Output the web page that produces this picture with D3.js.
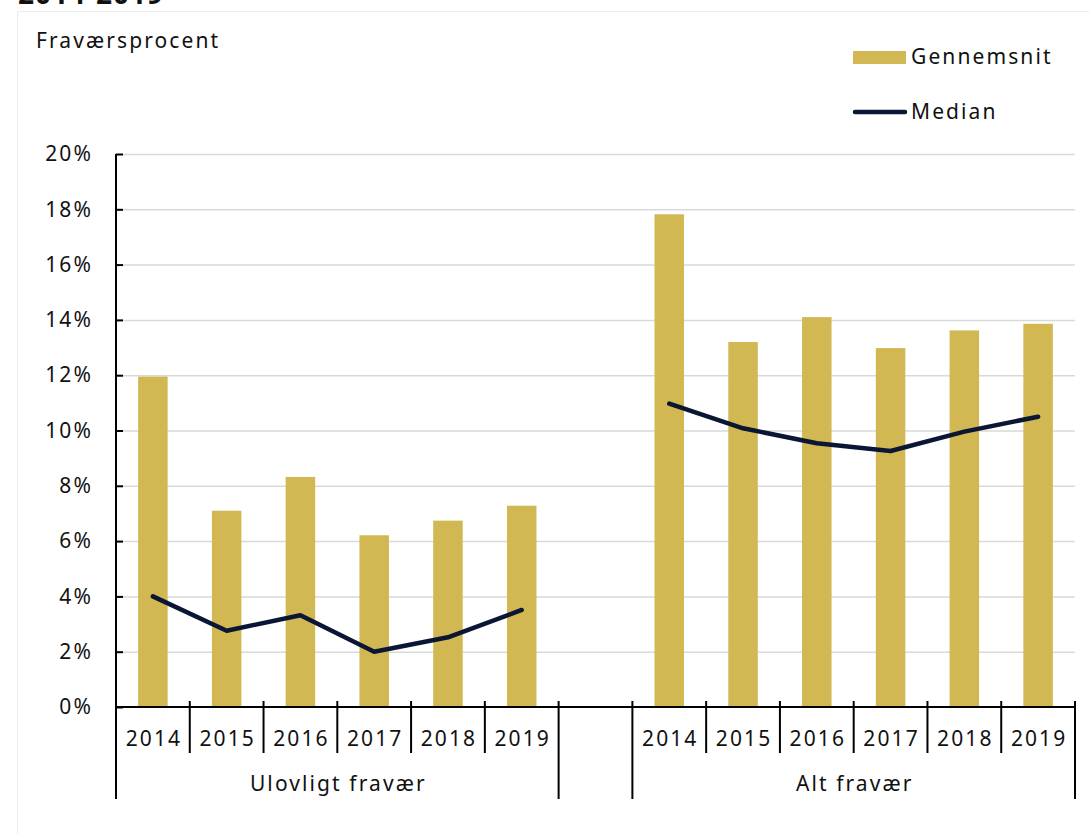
<!DOCTYPE html>
<html>
<head>
<meta charset="utf-8">
<script src="https://cdn.jsdelivr.net/npm/d3@7"></script>
<style>
  body { margin: 0; background: #fff; }
  text { font-family: "Noto Sans", sans-serif; letter-spacing: 2.1px; fill: #111; }
</style>
</head>
<body>
<script>
// data
const years = ["2014", "2015", "2016", "2017", "2018", "2019"]
const groups = ["Ulovligt fravær", "Alt fravær"]
const avgUlovligt = [11.95, 7.1, 8.32, 6.21, 6.74, 7.28]
const medUlovligt = [4.0, 2.76, 3.32, 2.0, 2.52, 3.51]
const avgAlt = [17.82, 13.2, 14.1, 12.98, 13.62, 13.86]
const medAlt = [10.97, 10.08, 9.54, 9.26, 9.96, 10.5]
const yTicks = [0, 2, 4, 6, 8, 10, 12, 14, 16, 18, 20]

const gold = "#d1b853"
const navy = "#0a1633"

const W = 1089, H = 834
const svg = d3.select("body").append("svg")
    .attr("width", W)
    .attr("height", H)

// clipped title above the frame + light frame
svg.append("text")
    .attr("x", 18).attr("y", 4)
    .style("font-weight", "bold")
    .style("font-size", "28px")
    .style("letter-spacing", "1px")
    .text("2014-2019")
svg.append("rect")
    .attr("x", 17.5).attr("y", 11.5)
    .attr("width", W).attr("height", H)
    .attr("fill", "#fff")
    .attr("stroke", "#ececec")

const pLeft = 116, pRight = 1075, pTop = 154, pBottom = 707

// 13 slots: 6 years, a gap, 6 years
const keys = []
years.forEach(y => keys.push(groups[0] + "|" + y))
keys.push("gap")
years.forEach(y => keys.push(groups[1] + "|" + y))

const x = d3.scaleBand().domain(keys).range([pLeft, pRight]).padding(0)
const y = d3.scaleLinear().domain([0, 20]).range([pBottom, pTop])

// gridlines
svg.append("g")
    .attr("transform", `translate(${pLeft},0)`)
    .call(d3.axisLeft(y).tickValues(yTicks.slice(1)).tickSize(-(pRight - pLeft)).tickFormat(""))
    .call(g => g.select(".domain").remove())
    .call(g => g.selectAll("line").attr("stroke", "#d9d9d9").attr("stroke-width", 1.5))

const series = [
  { group: groups[0], avg: avgUlovligt, med: medUlovligt },
  { group: groups[1], avg: avgAlt, med: medAlt }
]

const bw = x.bandwidth() * 0.4
series.forEach(s => {
  svg.append("g").selectAll("rect")
    .data(s.avg)
    .enter()
    .append("rect")
      .attr("x", (d, i) => x(s.group + "|" + years[i]) + (x.bandwidth() - bw) / 2)
      .attr("width", bw)
      .attr("y", d => y(d))
      .attr("height", d => y(0) - y(d))
      .attr("fill", gold)
})

series.forEach(s => {
  const line = d3.line()
      .x((d, i) => x(s.group + "|" + years[i]) + x.bandwidth() / 2)
      .y(d => y(d))
  svg.append("path")
      .attr("d", line(s.med))
      .attr("fill", "none")
      .attr("stroke", navy)
      .attr("stroke-width", 4.5)
      .attr("stroke-linecap", "round")
      .attr("stroke-linejoin", "round")
})

// y axis
svg.append("g")
    .attr("transform", `translate(${pLeft},0)`)
    .call(d3.axisLeft(y).tickValues(yTicks).tickSize(-7).tickPadding(23).tickFormat(d => d + "%"))
    .call(g => g.select(".domain").attr("d", `M0,${pTop}V${pBottom}`).attr("stroke", "#000").attr("stroke-width", 2))
    .call(g => g.selectAll(".tick line").attr("stroke", "#000").attr("stroke-width", 2))
    .call(g => g.selectAll("text").style("font-size", "21px").attr("fill", "#111").attr("font-family", null))

// x axis, two levels
const xa = svg.append("g")
xa.append("line")
    .attr("x1", pLeft).attr("x2", pRight)
    .attr("y1", pBottom).attr("y2", pBottom)
    .attr("stroke", "#000").attr("stroke-width", 2)

const groupEdges = [pLeft, x("gap"), x("gap") + x.bandwidth(), pRight]
const bounds = keys.map(k => x(k)).concat([pRight])
xa.selectAll(".sep")
    .data(bounds)
    .enter()
    .append("line")
      .attr("x1", d => d).attr("x2", d => d)
      .attr("y1", 701)
      .attr("y2", d => groupEdges.some(e => Math.abs(e - d) < 0.5) ? 799 : 753)
      .attr("stroke", "#000").attr("stroke-width", 2)

series.forEach(s => {
  xa.append("g").selectAll("text")
    .data(years)
    .enter()
    .append("text")
      .attr("x", d => x(s.group + "|" + d) + x.bandwidth() / 2 + 1)
      .attr("y", 746)
      .attr("text-anchor", "middle")
      .style("font-size", "21px")
      .text(d => d)
})
xa.selectAll(".grp")
    .data(groups)
    .enter()
    .append("text")
      .attr("x", (d, i) => (groupEdges[i * 2] + groupEdges[i * 2 + 1]) / 2 + 1)
      .attr("y", 791)
      .attr("text-anchor", "middle")
      .style("font-size", "21px")
      .text(d => d)

// axis title
svg.append("text")
    .attr("x", 36).attr("y", 48)
    .style("font-size", "21px")
    .text("Fraværsprocent")

// legend
svg.append("rect")
    .attr("x", 853).attr("y", 51)
    .attr("width", 53).attr("height", 13)
    .attr("fill", gold)
svg.append("text")
    .attr("x", 911).attr("y", 64)
    .style("font-size", "21px")
    .text("Gennemsnit")
svg.append("line")
    .attr("x1", 855).attr("x2", 905)
    .attr("y1", 112).attr("y2", 112)
    .attr("stroke", navy).attr("stroke-width", 4.5)
    .attr("stroke-linecap", "round")
svg.append("text")
    .attr("x", 911).attr("y", 119)
    .style("font-size", "21px")
    .text("Median")
</script>
</body>
</html>
